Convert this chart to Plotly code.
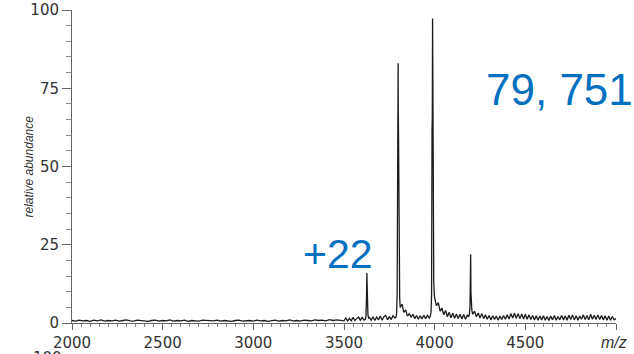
import plotly.graph_objects as go

# ---- data ----
# low-noise baseline, 2000-3480 m/z sampled every 20
base_lo_mz = list(range(2000, 3500, 20))
base_lo_int = [0.8, 0.6, 0.9, 0.7, 0.8, 0.5, 0.9, 0.7, 1.0, 0.6,
               0.8, 0.7, 0.9, 0.6, 0.8, 1.0, 0.7, 0.6, 0.9, 0.8,
               0.7, 0.5, 0.8, 0.9, 0.6, 0.8, 0.7, 1.0, 0.6, 0.8,
               0.7, 0.9, 0.5, 0.8, 0.7, 0.6, 0.9, 0.8, 0.6, 0.7,
               0.9, 0.6, 0.8, 0.7, 0.5, 0.8, 0.9, 0.6, 0.7, 0.8,
               0.6, 0.9, 0.7, 0.8, 0.5, 0.7, 0.9, 0.6, 0.8, 0.7,
               1.0, 0.7, 0.8, 0.6, 0.9, 0.8, 0.7, 1.0, 0.8, 0.9,
               0.7, 1.1, 0.8, 1.0, 0.9]

# noisier baseline, 3500-5000 m/z sampled every 10
base_hi_mz = list(range(3500, 5001, 10))
base_hi_int = [0.7, 1.6, 0.6, 1.5, 0.7, 1.8, 0.8, 1.4, 1.9, 0.9,
               1.8, 0.9, 2.0, 2.5, 1.8, 0.9, 2.0, 0.8, 1.9, 1.0,
               2.2, 0.9, 2.0, 2.4, 1.0, 2.1, 1.1, 2.3, 1.6, 3.0,
               7.5, 5.0, 6.0, 3.4, 4.2, 2.2, 3.0, 1.9, 2.8, 1.4,
               2.4, 1.2, 2.3, 1.3, 2.5, 1.4, 2.4, 1.6, 3.2, 5.0,
               8.0, 5.5, 6.5, 3.8, 4.8, 2.6, 4.0, 2.0, 3.4, 1.7,
               3.1, 1.5, 2.9, 1.4, 2.8, 1.3, 2.7, 1.2, 2.5, 2.4,
               4.2, 2.8, 3.8, 2.0, 3.2, 1.6, 3.0, 1.4, 2.6, 1.2,
               2.4, 1.0, 2.3, 1.1, 2.2, 0.9, 2.2, 1.1, 2.4, 1.2,
               2.6, 1.3, 3.0, 1.6, 3.1, 1.5, 3.0, 1.4, 2.9, 1.3,
               2.8, 1.2, 2.6, 1.1, 2.4, 1.0, 2.3, 0.9, 2.2, 1.0,
               2.3, 0.9, 2.1, 0.8, 2.2, 1.0, 2.4, 0.9, 2.1, 1.0,
               2.4, 1.0, 2.2, 0.9, 2.5, 1.1, 2.6, 1.0, 2.3, 0.9,
               2.2, 1.2, 2.6, 1.1, 2.4, 1.0, 2.8, 1.2, 2.5, 1.1,
               2.6, 1.1, 2.4, 1.0, 2.3, 0.9, 2.2, 0.9, 2.1, 1.0,
               1.4]

# charge-state peaks (+22, +21, +20, +19)
p22_mz = [3617, 3621, 3623, 3624.5, 3626, 3627.5, 3629, 3632, 3636]
p22_int = [1.2, 2.0, 4.5, 9.0, 16.0, 8.0, 4.0, 2.5, 1.6]

p21_mz = [3786, 3790, 3793, 3795.5, 3797, 3798.5, 3799.5, 3801, 3802.5, 3804, 3807]
p21_int = [1.8, 3.0, 9.0, 60.0, 67.0, 83.0, 67.0, 58.0, 25.0, 12.0, 8.0]

p20_mz = [3976, 3980, 3983, 3985.5, 3987, 3988.5, 3990, 3991.5, 3993.5, 3995, 3998]
p20_int = [2.2, 3.5, 9.0, 62.0, 66.0, 97.3, 66.0, 60.0, 25.0, 13.0, 9.0]

p19_mz = [4188, 4192, 4195, 4197, 4198.5, 4200, 4202, 4205]
p19_int = [2.0, 3.0, 5.5, 11.0, 22.0, 10.0, 5.5, 4.0]

x_tick_vals = [2000, 2500, 3000, 3500, 4000, 4500, 5000]
x_tick_text = ["2000", "2500", "3000", "3500", "4000", "4500", ""]
y_tick_vals = [0, 25, 50, 75, 100]
y_tick_text = ["0", "25", "50", "75", "100"]

# ---- assemble spectrum ----
peaks = [(p22_mz, p22_int), (p21_mz, p21_int), (p20_mz, p20_int), (p19_mz, p19_int)]
points = list(zip(base_lo_mz, base_lo_int)) + list(zip(base_hi_mz, base_hi_int))
for pm, _ in peaks:
    lo, hi = pm[0], pm[-1]
    points = [(m, v) for (m, v) in points if not (lo <= m <= hi)]
for pm, pi in peaks:
    points += list(zip(pm, pi))
points.sort(key=lambda t: t[0])
mz = [p[0] for p in points]
inten = [p[1] for p in points]

fig = go.Figure()
fig.add_trace(go.Scatter(x=mz, y=inten, mode="lines",
                         line=dict(color="#1c1c1c", width=1.3),
                         hoverinfo="skip", showlegend=False))

tickfont = dict(family="DejaVu Sans", size=15, color="#333333")
fig.update_layout(
    width=634, height=354,
    margin=dict(l=72, r=18, t=10, b=31, autoexpand=False),
    paper_bgcolor="white", plot_bgcolor="white",
    showlegend=False,
    xaxis=dict(range=[2000, 5000], tickmode="array", tickvals=x_tick_vals,
               ticktext=x_tick_text, ticks="outside", ticklen=6, tickwidth=1,
               tickcolor="#666666", showline=True, linecolor="#666666",
               linewidth=1, showgrid=False, zeroline=False, tickfont=tickfont,
               automargin=False,
               minor=dict(dtick=50, ticks="outside", ticklen=3,
                          tickcolor="#888888", showgrid=False)),
    yaxis=dict(range=[0, 100], tickmode="array", tickvals=y_tick_vals,
               ticktext=y_tick_text, ticks="outside", ticklen=9, tickwidth=1,
               tickcolor="#666666", showline=True, linecolor="#666666",
               linewidth=1, showgrid=False, zeroline=False, tickfont=tickfont,
               automargin=False,
               minor=dict(dtick=5, ticks="outside", ticklen=5,
                          tickcolor="#888888", showgrid=False)),
)

blue = "#0070C0"
fig.add_annotation(x=3262, y=22, xref="x", yref="y", text="+22",
                   showarrow=False, xanchor="left", yanchor="middle",
                   font=dict(family="Liberation Sans", size=41, color=blue))
fig.add_annotation(x=4272, y=74.5, xref="x", yref="y", text="79, 751",
                   showarrow=False, xanchor="left", yanchor="middle",
                   font=dict(family="Liberation Sans", size=44, color=blue))
fig.add_annotation(x=4990, y=0, xref="x", yref="paper", text="<i>m/z</i>",
                   showarrow=False, xanchor="center", yanchor="top", yshift=-9,
                   font=dict(family="Liberation Sans", size=16, color="#333333"))
fig.add_annotation(x=0, y=50, xref="paper", yref="y", text="<i>relative abundance</i>",
                   showarrow=False, textangle=-90, xanchor="center", yanchor="middle",
                   xshift=-44,
                   font=dict(family="Liberation Sans", size=12, color="#333333"))
fig.add_annotation(x=0, y=0, xref="paper", yref="paper", text="100",
                   showarrow=False, xanchor="center", yanchor="top",
                   xshift=-25, yshift=-24,
                   font=dict(family="DejaVu Sans", size=15, color="#333333"))

fig.write_html("out.html")
